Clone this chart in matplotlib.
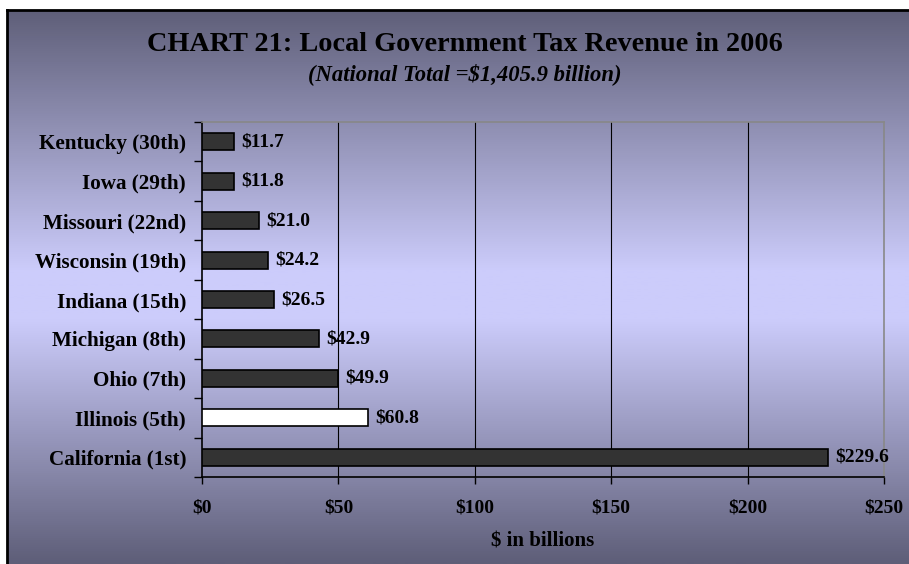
import numpy as np
import matplotlib
matplotlib.use("Agg")
import matplotlib.pyplot as plt
from matplotlib.colors import LinearSegmentedColormap
from matplotlib.lines import Line2D

states = ["Kentucky (30th)", "Iowa (29th)", "Missouri (22nd)", "Wisconsin (19th)",
          "Indiana (15th)", "Michigan (8th)", "Ohio (7th)", "Illinois (5th)",
          "California (1st)"]
revenue = [11.7, 11.8, 21.0, 24.2, 26.5, 42.9, 49.9, 60.8, 229.6]
highlight = "Illinois (5th)"
x_ticks = [0, 50, 100, 150, 200, 250]

W, H = 909, 564
fig = plt.figure(figsize=(W / 100, H / 100), dpi=100)
fig.patch.set_facecolor("white")

plt.rcParams["font.family"] = ["Liberation Serif", "DejaVu Serif"]

# gradient background panel
fx0, fy1 = 7 / W, (H - 10) / H
bg = fig.add_axes([fx0, 0, 1 - fx0, fy1])
bg.set_axis_off()
cmap = LinearSegmentedColormap.from_list(
    "panel",
    [(0.0, "#5f5f79"), (0.47, "#ccccfb"), (0.56, "#ccccfb"), (1.0, "#5e5e78")])
grad = np.linspace(0, 1, 512).reshape(-1, 1)
bg.imshow(grad, aspect="auto", cmap=cmap, extent=[0, 1, 1, 0])
bg.set_xlim(0, 1)
bg.set_ylim(1, 0)

# dark frame edges on top and left
fig.add_artist(Line2D([fx0, 1], [fy1, fy1], transform=fig.transFigure,
                      color="black", lw=2))
fig.add_artist(Line2D([fx0, fx0], [0, fy1], transform=fig.transFigure,
                      color="black", lw=2))

# plot area
left, right, top, bottom = 202, 884, 122, 477
ax = fig.add_axes([left / W, 1 - bottom / H, (right - left) / W, (bottom - top) / H])
ax.patch.set_alpha(0)

y = np.arange(len(states))
colors = ["white" if s == highlight else "#333333" for s in states]
ax.barh(y, revenue, height=0.43, color=colors, edgecolor="black", linewidth=1.2, zorder=3)

for yi, v in zip(y, revenue):
    ax.text(v + 2.6, yi, f"${v:.1f}", va="center", ha="left",
            fontsize=14, fontweight="bold", zorder=4)

ax.set_xlim(0, 250)
ax.set_ylim(len(states) - 0.5, -0.5)
ax.set_xticks(x_ticks)
ax.set_xticklabels([f"${t}" for t in x_ticks], fontsize=14, fontweight="bold")
ax.tick_params(axis="x", length=5, width=1, pad=11, direction="out")
ax.set_yticks(y)
ax.set_yticklabels(states, fontsize=15.2, fontweight="bold")
ax.tick_params(axis="y", length=0, pad=11.5)
# tick marks between categories
ax.set_yticks(np.arange(-0.5, len(states), 1.0), minor=True)
ax.tick_params(axis="y", which="minor", length=6, width=1, direction="out")

for g in x_ticks[1:-1]:
    ax.axvline(g, color="black", lw=0.8, zorder=1)

ax.spines["left"].set_color("black")
ax.spines["bottom"].set_color("black")
ax.spines["top"].set_color("#888888")
ax.spines["right"].set_color("#888888")
for sp in ax.spines.values():
    sp.set_linewidth(1.2)

cx = (left + right) / 2 / W
fig.text(cx, 1 - 541 / H, "$ in billions", ha="center", va="center",
         fontsize=15, fontweight="bold")

fig.text((147 + 782) / 2 / W, 1 - 51 / H, "CHART 21: Local Government Tax Revenue in 2006",
         ha="center", va="baseline", fontsize=20.3, fontweight="bold")
fig.text((306 + 623) / 2 / W, 1 - 80 / H, "(National Total =$1,405.9 billion)",
         ha="center", va="baseline", fontsize=16.3, fontweight="bold", style="italic")

fig.savefig("out.png", dpi=100)
